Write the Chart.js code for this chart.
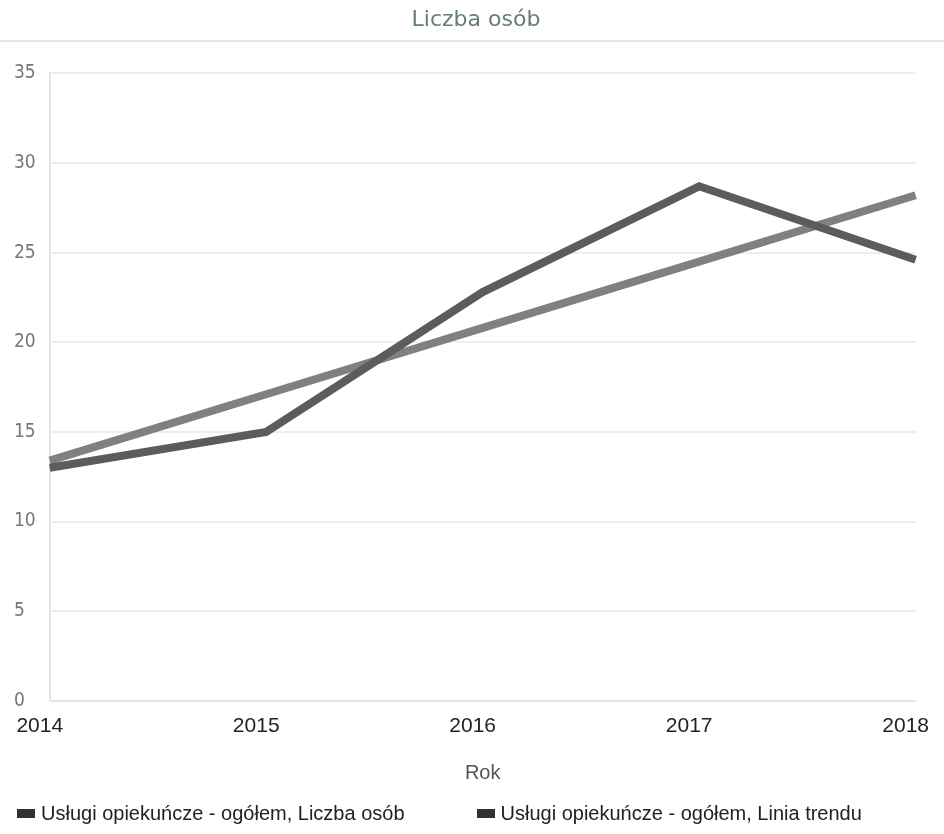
<!DOCTYPE html>
<html>
<head>
<meta charset="utf-8">
<script src="https://cdn.jsdelivr.net/npm/chart.js@4.4.0/dist/chart.umd.min.js"></script>
<style>
  html, body { margin: 0; padding: 0; background: #fff; }
  #wrap { width: 944px; height: 834px; position: relative; }
  #legend { position: absolute; left: 17px; top: 802px; display: flex; gap: 72px;
            font-family: "Liberation Sans", Arial, sans-serif; font-size: 20px; color: #222; }
  #legend .item { display: flex; align-items: center; white-space: nowrap; }
  #legend .box { width: 18px; height: 9px; margin-right: 6px; display: inline-block; }
</style>
</head>
<body>
<div id="wrap">
  <canvas id="myChart"></canvas>
  <div id="legend"></div>
</div>
<script>
const years = ["2014", "2015", "2016", "2017", "2018"];
const liczbaOsob = [13, 15, 22.8, 28.7, 24.6];
const liniaTrendu = [13.4, 17.1, 20.8, 24.5, 28.2];
const yTicks = [0, 5, 10, 15, 20, 25, 30, 35];

// cienka linia pod tytułem
const titleLine = {
  id: "titleLine",
  afterDraw(c) {
    const ctx = c.ctx;
    ctx.save();
    ctx.strokeStyle = "#e6e6e6";
    ctx.lineWidth = 2;
    ctx.beginPath();
    ctx.moveTo(0, 41);
    ctx.lineTo(c.width, 41);
    ctx.stroke();
    ctx.restore();
  }
};

const ctx = document.getElementById("myChart").getContext("2d");
const chart = new Chart(ctx, {
  type: "line",
  data: {
    labels: years,
    datasets: [{
      label: "Usługi opiekuńcze - ogółem, Liczba osób",
      data: liczbaOsob,
      borderColor: "#5c5c5c",
      backgroundColor: "#333",
      borderWidth: 8,
      pointRadius: 0,
      tension: 0,
      fill: false
    }, {
      label: "Usługi opiekuńcze - ogółem, Linia trendu",
      data: liniaTrendu,
      borderColor: "#808080",
      backgroundColor: "#333",
      borderWidth: 8,
      pointRadius: 0,
      tension: 0,
      fill: false
    }]
  },
  options: {
    responsive: true,
    maintainAspectRatio: false,
    animation: false,
    layout: { padding: { left: 14, right: 6, top: 6, bottom: 39 } },
    plugins: {
      title: {
        display: true,
        text: "Liczba osób",
        color: "#66806f",
        font: { family: "DejaVu Sans", size: 22, weight: "normal" },
        padding: { top: 1, bottom: 40 }
      },
      legend: { display: false },
      tooltip: { enabled: false }
    },
    scales: {
      x: {
        offset: false,
        grid: { display: false },
        border: { color: "#e6e6e6", width: 2 },
        ticks: {
          color: "#222",
          font: { family: "Liberation Sans", size: 21 },
          maxRotation: 0,
          padding: 5,
          labelOffset: -10
        },
        title: {
          display: true,
          text: "Rok",
          color: "#555",
          font: { family: "Liberation Sans", size: 20 },
          padding: { top: 17, bottom: 10 }
        }
      },
      y: {
        min: yTicks[0],
        max: yTicks[yTicks.length - 1],
        afterBuildTicks(axis) { axis.ticks = yTicks.map(v => ({ value: v })); },
        grid: { color: "#eeeeee", lineWidth: 2, drawTicks: false },
        border: { color: "#e6e6e6", width: 2 },
        ticks: {
          color: "#777",
          font: { family: "DejaVu Sans Condensed", size: 19 },
          crossAlign: "far",
          padding: 7
        }
      }
    }
  },
  plugins: [titleLine]
});

// legenda HTML z etykiet wygenerowanych przez Chart.js
const legendEl = document.getElementById("legend");
Chart.defaults.plugins.legend.labels.generateLabels(chart).forEach(item => {
  const div = document.createElement("div");
  div.className = "item";
  const box = document.createElement("span");
  box.className = "box";
  box.style.background = "#333";
  div.appendChild(box);
  div.appendChild(document.createTextNode(item.text));
  legendEl.appendChild(div);
});
</script>
</body>
</html>
